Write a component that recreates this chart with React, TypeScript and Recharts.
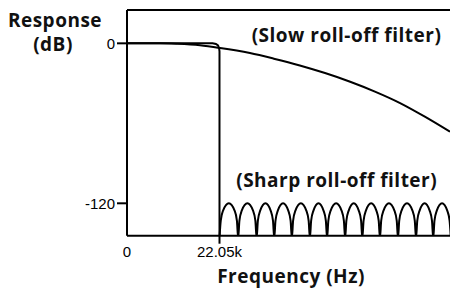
import React from 'react';
import { LineChart, Line, XAxis, YAxis, ReferenceLine } from 'recharts';

// slow roll-off filter response (kHz, dB)
const SLOW_KHZ = [0, 8, 12, 17.4, 22.2, 29.3, 35, 41.2, 47.2, 53.2, 59.1, 65.1, 71, 77];
const SLOW_DB = [0, 0, -0.4, -1.5, -3.5, -7.3, -11.5, -16.6, -22.3, -28.8, -36.2, -44.8, -55, -66.3];

// sharp roll-off filter, pass band down to the brick wall at 22.05k
const PASS_KHZ = [0, 20.4, 21.2, 21.7, 21.95, 22.05, 22.05];
const PASS_DB = [0, 0, -0.5, -1.6, -3.5, -6, -146];

// sharp roll-off filter, stop band ripple (lobes peaking at -120 dB)
const STOP_KHZ = [
  22.05, 22.35, 22.9, 24.28, 25.65, 26.2,
  26.5, 26.8, 27.35, 28.7, 30.05, 30.6,
  30.9, 31.2, 31.75, 33.0, 34.25, 34.8,
  35.1, 35.4, 35.95, 37.2, 38.45, 39.0,
  39.3, 39.6, 40.15, 41.45, 42.75, 43.3,
  43.6, 43.9, 44.45, 45.65, 46.85, 47.4,
  47.7, 48.0, 48.55, 49.85, 51.15, 51.7,
  52.0, 52.3, 52.85, 54.05, 55.25, 55.8,
  56.1, 56.4, 56.95, 58.2, 59.45, 60.0,
  60.3, 60.6, 61.15, 62.45, 63.75, 64.3,
  64.6, 64.9, 65.45, 66.75, 68.05, 68.6,
  68.9, 69.2, 69.75, 70.95, 72.15, 72.7,
  73.0, 73.3, 73.85, 75.1, 76.35, 76.9,
  77.2,
];
const STOP_DB = [
  -146, -133, -125.5, -120, -125.5, -133,
  -146, -133, -125.5, -120, -125.5, -133,
  -146, -133, -125.5, -120, -125.5, -133,
  -146, -133, -125.5, -120, -125.5, -133,
  -146, -133, -125.5, -120, -125.5, -133,
  -146, -133, -125.5, -120, -125.5, -133,
  -146, -133, -125.5, -120, -125.5, -133,
  -146, -133, -125.5, -120, -125.5, -133,
  -146, -133, -125.5, -120, -125.5, -133,
  -146, -133, -125.5, -120, -125.5, -133,
  -146, -133, -125.5, -120, -125.5, -133,
  -146, -133, -125.5, -120, -125.5, -133,
  -146, -133, -125.5, -120, -125.5, -133,
  -146,
];

const X_TICKS = [0, 22.05];
const X_TICK_LABELS = ['0', '22.05k'];
const Y_TICKS = [-120, 0];

const toPoints = (khz: number[], db: number[]) => khz.map((k, i) => ({ khz: k, db: db[i] }));

const slowData = toPoints(SLOW_KHZ, SLOW_DB);
const passData = toPoints(PASS_KHZ, PASS_DB);
const stopData = toPoints(STOP_KHZ, STOP_DB);

const TICK_FONT = '"Liberation Sans", Arial, sans-serif';
const TITLE_FONT = '"Open Sans", "Noto Sans", sans-serif';

// x ticks: no tick mark under the origin
const XTick = (props: any) => {
  const { x, y, payload } = props;
  const i = X_TICKS.indexOf(payload.value);
  return (
    <g>
      {payload.value !== 0 && (
        <line x1={x} x2={x} y1={y - 11} y2={y - 3} stroke="#000" strokeWidth={2} />
      )}
      <text x={x} y={y} dy="0.71em" textAnchor="middle" fontFamily={TICK_FONT} fontSize={15} fill="#000">
        {X_TICK_LABELS[i]}
      </text>
    </g>
  );
};

const titleStyle = {
  fontFamily: TITLE_FONT,
  fontWeight: 700,
  fontSize: 19,
  letterSpacing: 0.5,
  fill: '#111',
};

export default function App() {
  return (
    <div style={{ position: 'absolute', left: 0, top: 0, width: 450, height: 291, background: '#fff' }}>
      <LineChart width={450} height={291} margin={{ top: 10, right: 0, bottom: 25.3, left: 0 }}>
        <XAxis
          type="number"
          dataKey="khz"
          domain={[0, 77]}
          allowDataOverflow
          ticks={X_TICKS}
          tick={<XTick />}
          tickLine={false}
          tickSize={8}
          tickMargin={3}
          height={30}
          axisLine={{ stroke: '#000', strokeWidth: 2 }}
        />
        <YAxis
          type="number"
          domain={[-144.3, 25]}
          allowDataOverflow
          ticks={Y_TICKS}
          width={127}
          tickSize={10}
          tickMargin={2}
          tick={{ fontSize: 15, fill: '#000', fontFamily: TICK_FONT }}
          tickLine={{ stroke: '#000', strokeWidth: 2 }}
          axisLine={{ stroke: '#000', strokeWidth: 2 }}
        />
        <ReferenceLine y={25} stroke="#000" strokeWidth={2} />
        <Line
          data={slowData}
          dataKey="db"
          type="monotone"
          stroke="#000"
          strokeWidth={2}
          dot={false}
          isAnimationActive={false}
        />
        <Line
          data={passData}
          dataKey="db"
          type="linear"
          stroke="#000"
          strokeWidth={2}
          dot={false}
          isAnimationActive={false}
        />
        <Line
          data={stopData}
          dataKey="db"
          type="monotone"
          stroke="#000"
          strokeWidth={2}
          dot={false}
          isAnimationActive={false}
        />
        <text x={55} y={26.5} textAnchor="middle" style={titleStyle}>Response</text>
        <text x={53} y={51} textAnchor="middle" style={titleStyle}>(dB)</text>
        <text x={346.5} y={41.5} textAnchor="middle" style={titleStyle}>(Slow roll-off filter)</text>
        <text x={336.7} y={187} textAnchor="middle" style={titleStyle}>(Sharp roll-off filter)</text>
        <text x={291} y={283} textAnchor="middle" style={titleStyle}>Frequency (Hz)</text>
      </LineChart>
    </div>
  );
}
